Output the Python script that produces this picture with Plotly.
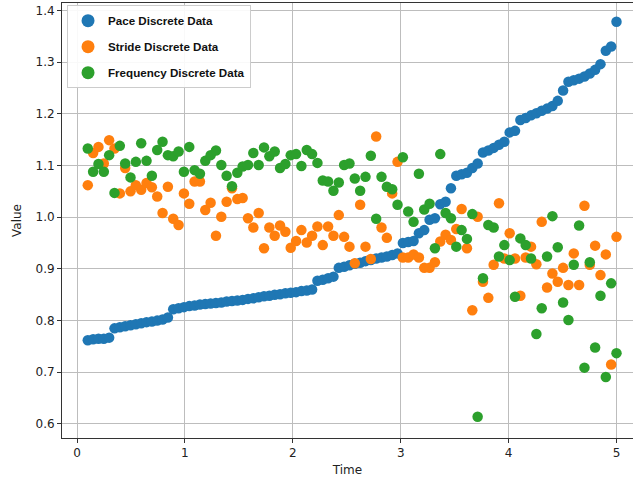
import numpy as np
import plotly.graph_objects as go

time = np.linspace(0.1, 5.0, 100)

pace = [
    0.762, 0.764, 0.765, 0.765, 0.767, 0.785, 0.787, 0.789, 0.791, 0.793,
    0.795, 0.797, 0.798, 0.800, 0.802, 0.806, 0.822, 0.824, 0.826, 0.828,
    0.829, 0.831, 0.832, 0.833, 0.834, 0.835, 0.837, 0.838, 0.839, 0.840,
    0.842, 0.843, 0.845, 0.847, 0.848, 0.850, 0.851, 0.853, 0.854, 0.855,
    0.857, 0.858, 0.860, 0.877, 0.879, 0.882, 0.885, 0.902, 0.904, 0.907,
    0.910, 0.912, 0.915, 0.917, 0.920, 0.922, 0.924, 0.927, 0.930, 0.950,
    0.952, 0.954, 0.969, 0.975, 0.995, 0.998, 1.025, 1.030, 1.056, 1.080,
    1.083, 1.086, 1.095, 1.104, 1.125, 1.129, 1.134, 1.140, 1.146, 1.164,
    1.167, 1.188, 1.192, 1.197, 1.201, 1.206, 1.210, 1.215, 1.225, 1.245,
    1.262, 1.265, 1.268, 1.272, 1.278, 1.285, 1.296, 1.322, 1.330, 1.378,
]

stride = [
    1.062, 1.124, 1.136, 1.104, 1.149, 1.133, 1.046, 1.095, 1.050, 1.062,
    1.053, 1.066, 1.058, 1.040, 1.008, 1.059, 0.997, 0.985, 1.046, 1.026,
    1.069, 1.069, 1.014, 1.028, 0.964, 1.001, 1.030, 1.056, 1.035, 1.037,
    0.998, 0.980, 1.008, 0.940, 0.980, 0.964, 0.984, 0.972, 0.941, 0.954,
    0.975, 0.951, 0.964, 0.982, 0.946, 0.982, 0.964, 1.004, 0.962, 0.943,
    0.911, 1.024, 0.943, 0.919, 1.156, 0.980, 0.960, 1.046, 1.107, 0.922,
    0.922, 0.928, 0.922, 0.902, 0.902, 0.913, 0.953, 0.966, 0.956, 0.977,
    1.016, 0.940, 0.820, 1.001, 0.875, 0.844, 0.908, 1.027, 0.920, 0.969,
    0.920, 0.848, 0.922, 0.943, 0.909, 0.991, 0.864, 0.891, 0.875, 0.902,
    0.869, 0.930, 0.869, 1.022, 0.908, 0.945, 0.888, 0.928, 0.715, 0.962,
]

frequency = [
    1.133, 1.088, 1.103, 1.088, 1.120, 1.047, 1.138, 1.104, 1.077, 1.107,
    1.143, 1.109, 1.080, 1.130, 1.146, 1.120, 1.118, 1.127, 1.088, 1.136,
    1.091, 1.084, 1.109, 1.120, 1.129, 1.101, 1.080, 1.060, 1.086, 1.098,
    1.101, 1.124, 1.101, 1.135, 1.118, 1.127, 1.095, 1.103, 1.120, 1.122,
    1.099, 1.130, 1.122, 1.105, 1.071, 1.069, 1.051, 1.067, 1.101, 1.104,
    1.075, 1.051, 1.078, 1.119, 0.997, 1.078, 1.059, 1.054, 1.024, 1.116,
    1.011, 0.991, 1.084, 1.015, 1.026, 0.940, 1.122, 1.008, 0.998, 0.943,
    0.975, 0.958, 1.006, 0.614, 0.882, 0.985, 0.980, 0.924, 0.946, 0.917,
    0.846, 0.959, 0.946, 0.920, 0.774, 0.824, 0.924, 1.002, 0.942, 0.835,
    0.801, 0.908, 0.984, 0.709, 0.913, 0.748, 0.848, 0.691, 0.872, 0.737,
]

series_names = ["Pace Discrete Data", "Stride Discrete Data", "Frequency Discrete Data"]
series_values = [pace, stride, frequency]
colors = ["#1f77b4", "#ff7f0e", "#2ca02c"]

x_ticks = [0, 1, 2, 3, 4, 5]
y_ticks = [0.6, 0.7, 0.8, 0.9, 1.0, 1.1, 1.2, 1.3, 1.4]

fig = go.Figure()
for name, vals, c in zip(series_names, series_values, colors):
    fig.add_trace(go.Scatter(
        x=time, y=vals, mode="markers", name=name, showlegend=False,
        marker=dict(color=c, size=10.5, line=dict(width=0)),
    ))
for i, (name, c) in enumerate(zip(series_names, colors)):
    fig.add_trace(go.Scatter(
        x=[None], y=[None], mode="markers", name=name, legendgroup=f"g{i}",
        marker=dict(color=c, size=13, line=dict(width=0)),
    ))

axis_common = dict(
    showgrid=True, gridcolor="#bdbdbd", gridwidth=1,
    showline=True, linecolor="#333333", linewidth=1,
    ticks="outside", ticklen=4, tickcolor="#333333",
    zeroline=False, automargin=False, ticklabeloverflow="allow",
    tickfont=dict(family="DejaVu Sans", size=12, color="#222222"),
)

fig.update_layout(
    width=633, height=479,
    margin=dict(l=62, r=0, t=3, b=41),
    plot_bgcolor="white", paper_bgcolor="white",
    xaxis=dict(range=[-0.139, 5.153], tickvals=x_ticks, mirror=True,
               title=dict(text="Time", font=dict(family="DejaVu Sans", size=12, color="#222222"), standoff=6),
               **axis_common),
    yaxis=dict(range=[0.5729, 1.4143], tickvals=y_ticks, tickformat=".1f",
               title=dict(text="Value", font=dict(family="DejaVu Sans", size=12, color="#222222"), standoff=11),
               **axis_common),
    legend=dict(
        x=0.0088, y=0.995, xanchor="left", yanchor="top",
        bgcolor="rgba(255,255,255,0.9)", bordercolor="#cccccc", borderwidth=1,
        font=dict(family="Liberation Sans", size=11.6, color="#111111", weight="bold"),
        tracegroupgap=7, itemwidth=30,
    ),
)

fig.write_html("out.html", config={"displayModeBar": False},
               post_script="document.body.style.margin='0';")
